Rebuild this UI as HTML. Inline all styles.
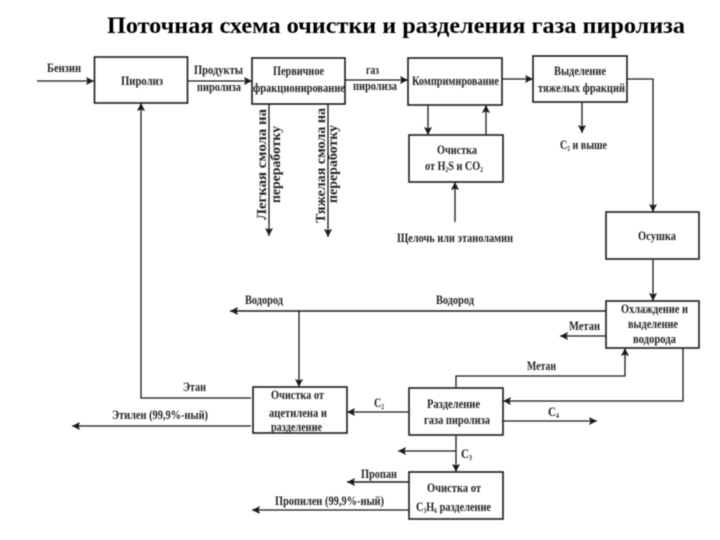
<!DOCTYPE html>
<html lang="ru">
<head>
<meta charset="utf-8">
<title>Поточная схема очистки и разделения газа пиролиза</title>
<style>
html,body{margin:0;padding:0;background:#fff;width:720px;height:540px;overflow:hidden}
svg{display:block;filter:blur(.4px)}
text{font-family:"Liberation Serif","Noto Serif CJK SC",serif;font-weight:bold;font-size:13px;fill:#222}
.t{font-size:23px;fill:#000}
.v{font-size:14px}
rect{fill:#fff;stroke:#1a1a1a;stroke-width:1.6}
.a{fill:none;stroke:#1a1a1a;stroke-width:1.3;marker-end:url(#h)}
</style>
</head>
<body>
<svg width="720" height="540" viewBox="0 0 720 540" xmlns="http://www.w3.org/2000/svg">
<defs>
<marker id="h" markerUnits="userSpaceOnUse" markerWidth="10" markerHeight="10" refX="8" refY="4" orient="auto">
<path d="M0 0L8 4L0 8L1.500 4Z" fill="#1a1a1a"/>
</marker>
</defs>
<text class="t" x="107" y="33" textLength="578" lengthAdjust="spacingAndGlyphs">Поточная схема очистки и разделения газа пиролиза</text>

<!-- connectors -->
<path class="a" d="M37 81H94"/>
<path class="a" d="M187 81H252"/>
<path class="a" d="M345 80H408"/>
<path class="a" d="M502 79H533"/>
<path class="a" d="M251 398H141V103"/>
<path class="a" d="M251 426H72"/>
<path class="a" d="M269 104V236"/>
<path class="a" d="M328 104V237"/>
<path class="a" d="M428 105V135"/>
<path class="a" d="M486 135V105"/>
<path class="a" d="M455 222V182"/>
<path class="a" d="M582 102V133"/>
<path class="a" d="M627 79H653V212"/>
<path class="a" d="M653 259V301"/>
<path class="a" d="M606 311H230" style="stroke-width:1.6"/>
<path class="a" d="M299 311V387"/>
<path class="a" d="M606 336H560"/>
<path class="a" d="M456 388V376H625V348"/>
<path class="a" d="M683 348V401H503"/>
<path class="a" d="M503 421H597"/>
<path class="a" d="M409 412H347"/>
<path class="a" d="M456 435V472"/>
<path class="a" d="M456 451H398"/>
<path class="a" d="M409 482H347" style="stroke-width:1.6"/>
<path class="a" d="M409 510H252"/>

<!-- boxes -->
<rect x="94.500" y="57" width="93" height="46"/>
<rect x="252" y="58" width="93" height="46"/>
<rect x="408" y="58" width="94" height="47"/>
<rect x="533" y="56" width="94" height="46"/>
<rect x="409" y="135" width="94" height="47"/>
<rect x="606" y="212" width="93" height="47"/>
<rect x="606" y="301" width="93" height="47"/>
<rect x="409" y="388" width="94" height="47"/>
<rect x="409" y="472" width="94" height="47"/>
<rect x="253" y="387" width="94" height="46"/>

<!-- top row labels -->
<text x="47" y="72" textLength="34" lengthAdjust="spacingAndGlyphs">Бензин</text>
<text x="121" y="85" textLength="42" lengthAdjust="spacingAndGlyphs">Пиролиз</text>
<text x="194" y="74" textLength="49" lengthAdjust="spacingAndGlyphs">Продукты</text>
<text x="197" y="91" textLength="44" lengthAdjust="spacingAndGlyphs">пиролиза</text>
<text x="273" y="75" textLength="51" lengthAdjust="spacingAndGlyphs">Первичное</text>
<text x="253" y="92" textLength="92" lengthAdjust="spacingAndGlyphs">фракционирование</text>
<text x="366" y="74" textLength="13" lengthAdjust="spacingAndGlyphs">газ</text>
<text x="353" y="90" textLength="44" lengthAdjust="spacingAndGlyphs">пиролиза</text>
<text x="412" y="85" textLength="87" lengthAdjust="spacingAndGlyphs">Компримирование</text>
<text x="554" y="75" textLength="52" lengthAdjust="spacingAndGlyphs">Выделение</text>
<text x="538" y="92" textLength="87" lengthAdjust="spacingAndGlyphs">тяжелых фракций</text>
<text x="437" y="154" textLength="40" lengthAdjust="spacingAndGlyphs">Очистка</text>
<text x="425" y="170" textLength="58" lengthAdjust="spacingAndGlyphs">от H<tspan font-size="7" dy="2">2</tspan><tspan dy="-2">S и CO</tspan><tspan font-size="7" dy="2">2</tspan></text>
<text x="560" y="149" textLength="47" lengthAdjust="spacingAndGlyphs">C<tspan font-size="7" dy="2">5</tspan><tspan dy="-2"> и выше</tspan></text>
<text x="397" y="242" textLength="116" lengthAdjust="spacingAndGlyphs">Щелочь или этаноламин</text>
<text x="638" y="240" textLength="38" lengthAdjust="spacingAndGlyphs">Осушка</text>

<!-- vertical labels -->
<text class="v" transform="translate(266 220) rotate(-90)" textLength="111" lengthAdjust="spacingAndGlyphs">Легкая смола на</text>
<text class="v" transform="translate(280 203) rotate(-90)" textLength="77" lengthAdjust="spacingAndGlyphs">переработку</text>
<text class="v" transform="translate(325 223) rotate(-90)" textLength="115" lengthAdjust="spacingAndGlyphs">Тяжелая смола на</text>
<text class="v" transform="translate(337 203) rotate(-90)" textLength="78" lengthAdjust="spacingAndGlyphs">переработку</text>

<!-- lower labels -->
<text x="245" y="304" textLength="38" lengthAdjust="spacingAndGlyphs">Водород</text>
<text x="436" y="304" textLength="38" lengthAdjust="spacingAndGlyphs">Водород</text>
<text x="621" y="313" textLength="67" lengthAdjust="spacingAndGlyphs">Охлаждение и</text>
<text x="628" y="328" textLength="50" lengthAdjust="spacingAndGlyphs">выделение</text>
<text x="633" y="343" textLength="43" lengthAdjust="spacingAndGlyphs">водорода</text>
<text x="569" y="330" textLength="31" lengthAdjust="spacingAndGlyphs">Метан</text>
<text x="527" y="370" textLength="29" lengthAdjust="spacingAndGlyphs">Метан</text>
<text x="183" y="391" textLength="23" lengthAdjust="spacingAndGlyphs">Этан</text>
<text x="112" y="419" textLength="96" lengthAdjust="spacingAndGlyphs">Этилен (99,9%-ный)</text>
<text x="271" y="399" textLength="53" lengthAdjust="spacingAndGlyphs">Очистка от</text>
<text x="269" y="417" textLength="58" lengthAdjust="spacingAndGlyphs">ацетилена и</text>
<text x="271" y="431" textLength="51" lengthAdjust="spacingAndGlyphs">разделение</text>
<text x="374" y="407" textLength="10" lengthAdjust="spacingAndGlyphs" font-size="14">C<tspan font-size="7" dy="2">2</tspan></text>
<text x="427" y="408" textLength="53" lengthAdjust="spacingAndGlyphs">Разделение</text>
<text x="424" y="424" textLength="66" lengthAdjust="spacingAndGlyphs">газа пиролиза</text>
<text x="548" y="416" textLength="11" lengthAdjust="spacingAndGlyphs" font-size="14">C<tspan font-size="7" dy="2">4</tspan></text>
<text x="461" y="458" textLength="11" lengthAdjust="spacingAndGlyphs" font-size="14">C<tspan font-size="7" dy="2">3</tspan></text>
<text x="361" y="478" textLength="36" lengthAdjust="spacingAndGlyphs">Пропан</text>
<text x="275" y="505" textLength="109" lengthAdjust="spacingAndGlyphs">Пропилен (99,9%-ный)</text>
<text x="427" y="492" textLength="54" lengthAdjust="spacingAndGlyphs">Очистка от</text>
<text x="416" y="511" textLength="75" lengthAdjust="spacingAndGlyphs">C<tspan font-size="7" dy="2">3</tspan><tspan dy="-2">H</tspan><tspan font-size="7" dy="2">6</tspan><tspan dy="-2"> разделение</tspan></text>
</svg>
</body>
</html>
